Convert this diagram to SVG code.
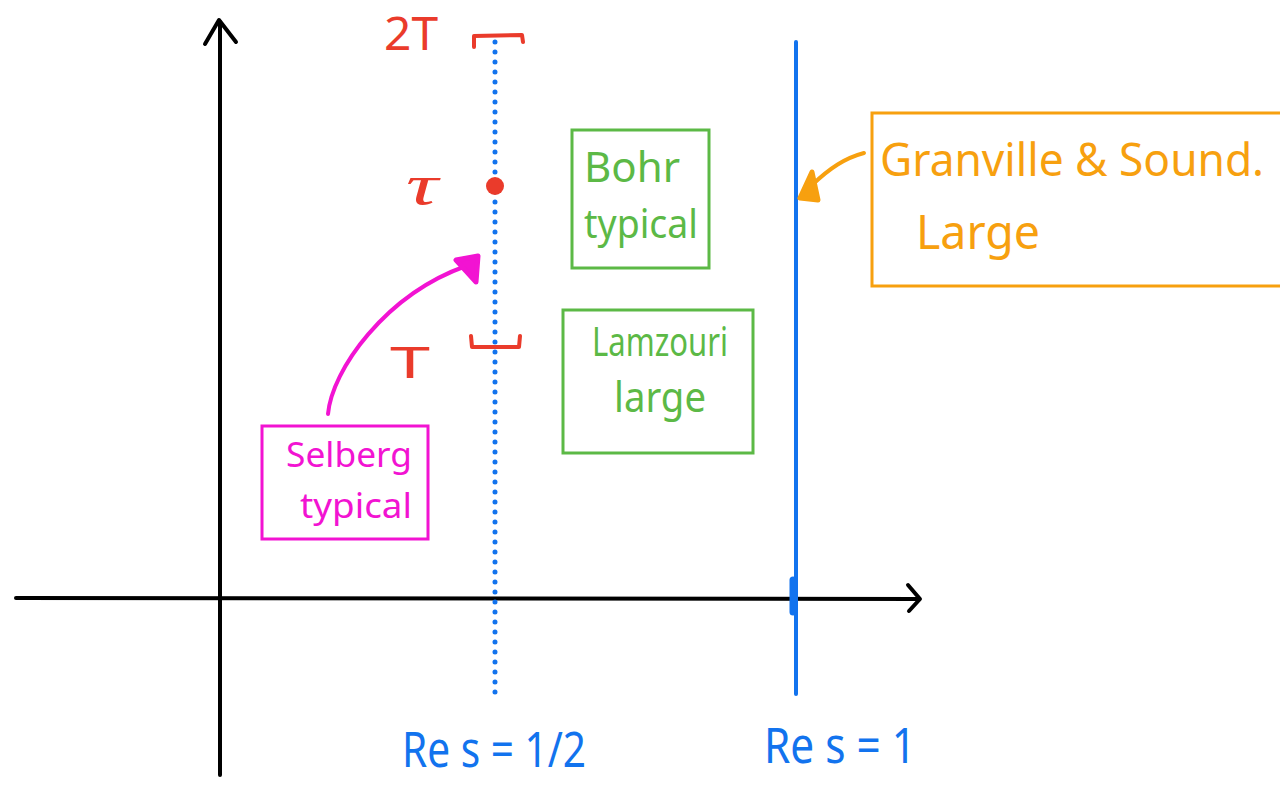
<svg xmlns="http://www.w3.org/2000/svg" width="1280" height="785" viewBox="0 0 1280 785">
<style>
.ink{fill:none;stroke-linecap:round;stroke-linejoin:round}
.t{font-family:"Noto Sans","Liberation Sans",sans-serif;font-weight:400}
.red{fill:#ea3b2b}
.blue{fill:#1273ee}
.green{fill:#5cb946}
.mag{fill:#f213d2}
.org{fill:#f7a00f}
</style>
<rect width="1280" height="785" fill="#ffffff"/>
<g id="axes" class="ink" stroke="#000" stroke-width="4">
<path d="M220,775 L220,22"/>
<path d="M205,44 L219,20 L236,42"/>
<path d="M16,598 L918,599"/>
<path d="M908,585 L920,599 L909,611"/>
</g>
<g id="critical-line">
<line x1="495" y1="42" x2="495" y2="700" stroke="#1273ee" stroke-width="5" stroke-linecap="round" stroke-dasharray="0 10"/>
</g>
<g id="line-re1" class="ink" stroke="#1273ee">
<path d="M796,42 L796,694" stroke-width="4"/>
<path d="M793,580 L793,612" stroke-width="7"/>
</g>
<g id="interval" class="ink" stroke="#ea3b2b" stroke-width="4">
<path d="M474,47 L474,36 L522,35 L523,42"/>
<path d="M471,336 L472,347 L519,347 L520,336"/>
<circle cx="495" cy="186" r="9" fill="#ea3b2b" stroke="none"/>
<text x="384" y="50" class="t red" font-size="46" stroke="none" textLength="54" lengthAdjust="spacingAndGlyphs">2T</text>
<text x="406" y="204" class="red" font-family="'Liberation Serif',serif" font-style="italic" font-size="56" stroke="none" textLength="32" lengthAdjust="spacingAndGlyphs">τ</text>
<text x="390" y="378" class="t red" font-size="44" stroke="none" textLength="40" lengthAdjust="spacingAndGlyphs">T</text>
</g>
<g id="connectors" class="ink">
<path d="M328,414 C332,370 385,295 466,266" stroke="#f213d2" stroke-width="4"/>
<path d="M456,260 L478,256 L476,282 Z" fill="#f213d2" stroke="#f213d2" stroke-width="5"/>
<path d="M864,153 C845,158 830,168 812,185" stroke="#f7a00f" stroke-width="4"/>
<path d="M812,172 L800,198 L818,200 Z" fill="#f7a00f" stroke="#f7a00f" stroke-width="5"/>
</g>
<g id="selberg">
<rect x="262" y="426" width="166" height="113" fill="none" stroke="#f213d2" stroke-width="3"/>
<text x="286" y="467" class="t mag" font-size="34" textLength="126" lengthAdjust="spacingAndGlyphs">Selberg</text>
<text x="300" y="518" class="t mag" font-size="34" textLength="112" lengthAdjust="spacingAndGlyphs">typical</text>
</g>
<g id="bohr">
<rect x="572" y="130" width="137" height="138" fill="none" stroke="#5cb946" stroke-width="3"/>
<text x="584" y="182" class="t green" font-size="42" textLength="96" lengthAdjust="spacingAndGlyphs">Bohr</text>
<text x="584" y="238" class="t green" font-size="40" textLength="114" lengthAdjust="spacingAndGlyphs">typical</text>
</g>
<g id="lamzouri">
<rect x="563" y="310" width="190" height="143" fill="none" stroke="#5cb946" stroke-width="3"/>
<text x="592" y="356" class="t green" font-size="40" textLength="136" lengthAdjust="spacingAndGlyphs">Lamzouri</text>
<text x="614" y="412" class="t green" font-size="42" textLength="92" lengthAdjust="spacingAndGlyphs">large</text>
</g>
<g id="granville">
<rect x="872" y="113" width="412" height="173" fill="none" stroke="#f7a00f" stroke-width="3"/>
<text x="880" y="176" class="t org" font-size="46" textLength="384" lengthAdjust="spacingAndGlyphs">Granville &amp; Sound.</text>
<text x="916" y="249" class="t org" font-size="48" textLength="124" lengthAdjust="spacingAndGlyphs">Large</text>
</g>
<g id="labels">
<text x="402" y="767" class="t blue" font-size="50" textLength="184" lengthAdjust="spacingAndGlyphs">Re s = 1/2</text>
<text x="764" y="763" class="t blue" font-size="50" textLength="152" lengthAdjust="spacingAndGlyphs">Re s = 1</text>
</g>
</svg>
